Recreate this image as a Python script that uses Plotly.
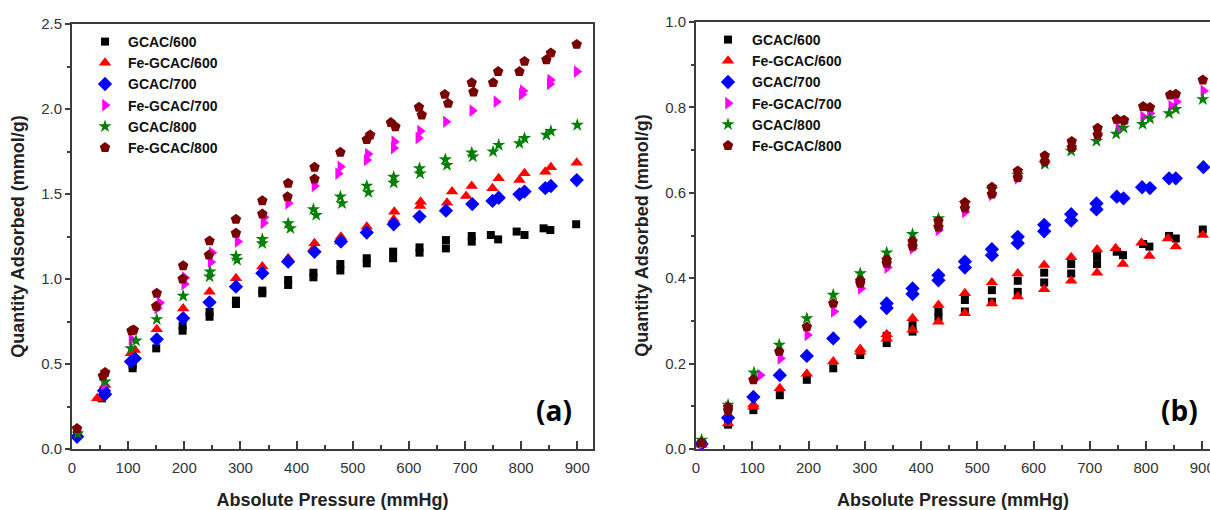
import plotly.graph_objects as go

# ---------------- data: panel (a) ----------------
a_gcac600_p = [9, 53, 108, 108, 150, 197, 197, 245, 245, 292, 292, 339, 339, 385, 385, 430, 430, 478, 478, 525, 525, 572, 572, 619, 619, 666, 666, 712, 712, 746, 759, 792, 806, 840, 852, 898]
a_gcac600_q = [0.08, 0.298, 0.475, 0.495, 0.592, 0.696, 0.724, 0.778, 0.806, 0.853, 0.873, 0.916, 0.932, 0.965, 0.994, 1.01, 1.037, 1.05, 1.088, 1.092, 1.122, 1.122, 1.161, 1.155, 1.186, 1.18, 1.229, 1.22, 1.253, 1.259, 1.233, 1.279, 1.259, 1.298, 1.288, 1.322]

a_fe600_p = [10, 45, 59, 105, 112, 151, 198, 245, 292, 339, 385, 430, 432, 478, 479, 525, 573, 574, 620, 621, 668, 677, 702, 712, 749, 760, 797, 806, 843, 853, 899]
a_fe600_q = [0.09, 0.298, 0.376, 0.563, 0.582, 0.704, 0.827, 0.925, 1.004, 1.073, 1.122, 1.18, 1.21, 1.22, 1.249, 1.308, 1.35, 1.396, 1.43, 1.455, 1.449, 1.514, 1.488, 1.547, 1.534, 1.592, 1.582, 1.622, 1.631, 1.657, 1.684]

a_gcac700_p = [9, 57, 59, 105, 112, 151, 198, 245, 292, 339, 385, 432, 479, 525, 573, 619, 666, 713, 749, 760, 797, 806, 843, 853, 899]
a_gcac700_q = [0.072, 0.343, 0.322, 0.514, 0.533, 0.645, 0.769, 0.863, 0.955, 1.034, 1.102, 1.16, 1.22, 1.273, 1.322, 1.367, 1.402, 1.441, 1.459, 1.478, 1.498, 1.514, 1.534, 1.547, 1.582]

a_fe700_p = [10, 57, 106, 152, 156, 200, 201, 247, 249, 295, 341, 342, 385, 432, 474, 478, 525, 527, 573, 574, 617, 620, 666, 713, 756, 801, 803, 851, 852, 899]
a_fe700_q = [0.10, 0.38, 0.645, 0.828, 0.86, 0.97, 1.008, 1.10, 1.155, 1.22, 1.33, 1.363, 1.445, 1.547, 1.62, 1.66, 1.70, 1.735, 1.77, 1.808, 1.83, 1.87, 1.925, 1.99, 2.043, 2.086, 2.108, 2.147, 2.17, 2.22]

a_gcac800_p = [10, 59, 105, 114, 151, 198, 245, 246, 292, 294, 339, 339, 385, 389, 430, 435, 478, 481, 525, 528, 573, 573, 619, 620, 665, 668, 712, 714, 750, 760, 797, 806, 845, 853, 900]
a_gcac800_q = [0.09, 0.396, 0.592, 0.637, 0.763, 0.90, 1.014, 1.043, 1.135, 1.112, 1.234, 1.21, 1.327, 1.298, 1.41, 1.376, 1.484, 1.445, 1.547, 1.51, 1.60, 1.565, 1.651, 1.62, 1.704, 1.67, 1.743, 1.72, 1.749, 1.788, 1.798, 1.828, 1.847, 1.87, 1.906]

a_fe800_p = [9, 55, 59, 106, 110, 150, 151, 197, 198, 244, 245, 292, 292, 339, 339, 384, 385, 432, 432, 478, 525, 531, 568, 576, 618, 623, 664, 670, 712, 715, 750, 759, 797, 806, 845, 853, 899]
a_fe800_q = [0.12, 0.43, 0.45, 0.696, 0.70, 0.84, 0.916, 1.0, 1.078, 1.141, 1.224, 1.269, 1.351, 1.382, 1.46, 1.484, 1.563, 1.588, 1.657, 1.745, 1.82, 1.847, 1.92, 1.896, 2.01, 1.965, 2.086, 2.033, 2.155, 2.10, 2.155, 2.22, 2.22, 2.28, 2.29, 2.33, 2.38]

# ---------------- data: panel (b) ----------------
b_gcac600_p = [10, 57, 102, 149, 197, 244, 292, 339, 339, 385, 385, 431, 431, 478, 478, 526, 526, 572, 572, 619, 619, 667, 667, 713, 713, 748, 759, 795, 806, 841, 853, 901]
b_gcac600_q = [0.012, 0.057, 0.091, 0.126, 0.162, 0.189, 0.22, 0.248, 0.265, 0.275, 0.29, 0.308, 0.322, 0.349, 0.322, 0.372, 0.345, 0.394, 0.368, 0.413, 0.39, 0.433, 0.411, 0.452, 0.433, 0.462, 0.454, 0.48, 0.474, 0.499, 0.493, 0.514]

b_fe600_p = [10, 57, 102, 102, 149, 197, 244, 292, 292, 339, 339, 385, 385, 431, 431, 478, 478, 526, 526, 572, 572, 619, 619, 667, 667, 713, 713, 746, 759, 792, 806, 839, 853, 901]
b_fe600_q = [0.01, 0.06, 0.099, 0.104, 0.142, 0.176, 0.205, 0.234, 0.228, 0.269, 0.258, 0.306, 0.279, 0.337, 0.298, 0.365, 0.318, 0.39, 0.341, 0.411, 0.357, 0.431, 0.374, 0.449, 0.394, 0.467, 0.413, 0.47, 0.433, 0.483, 0.452, 0.493, 0.474, 0.501]

b_gcac700_p = [10, 57, 102, 149, 197, 244, 292, 339, 339, 385, 385, 431, 431, 478, 478, 526, 526, 572, 572, 619, 619, 667, 667, 712, 712, 748, 760, 793, 807, 841, 853, 902]
b_gcac700_q = [0.012, 0.073, 0.122, 0.173, 0.218, 0.259, 0.298, 0.341, 0.33, 0.376, 0.363, 0.407, 0.395, 0.439, 0.425, 0.468, 0.454, 0.497, 0.482, 0.525, 0.51, 0.55, 0.535, 0.575, 0.561, 0.591, 0.587, 0.613, 0.611, 0.634, 0.634, 0.66]

b_fe700_p = [10, 57, 114, 150, 198, 245, 293, 340, 385, 431, 478, 526, 572, 620, 668, 714, 751, 760, 795, 807, 845, 854, 902]
b_fe700_q = [0.012, 0.098, 0.173, 0.212, 0.267, 0.322, 0.376, 0.425, 0.47, 0.513, 0.555, 0.595, 0.634, 0.67, 0.703, 0.735, 0.751, 0.765, 0.778, 0.786, 0.803, 0.813, 0.839]

b_gcac800_p = [10, 57, 103, 148, 197, 244, 292, 339, 385, 431, 478, 526, 572, 620, 667, 712, 747, 760, 794, 807, 841, 853, 901]
b_gcac800_q = [0.021, 0.103, 0.179, 0.244, 0.306, 0.361, 0.411, 0.46, 0.503, 0.54, 0.575, 0.608, 0.642, 0.668, 0.698, 0.721, 0.738, 0.752, 0.761, 0.774, 0.786, 0.796, 0.819]

b_fe800_p = [10, 57, 57, 102, 148, 197, 244, 292, 292, 339, 339, 385, 385, 431, 431, 478, 478, 526, 526, 572, 572, 620, 620, 668, 668, 714, 714, 748, 761, 795, 807, 843, 853, 901]
b_fe800_q = [0.015, 0.098, 0.09, 0.162, 0.228, 0.286, 0.341, 0.394, 0.388, 0.443, 0.435, 0.486, 0.475, 0.534, 0.52, 0.577, 0.564, 0.613, 0.597, 0.651, 0.636, 0.687, 0.673, 0.72, 0.706, 0.751, 0.736, 0.772, 0.77, 0.802, 0.80, 0.829, 0.831, 0.864]

series_names = ["GCAC/600", "Fe-GCAC/600", "GCAC/700", "Fe-GCAC/700", "GCAC/800", "Fe-GCAC/800"]
colors = ["#000000", "#FF0000", "#0000FF", "#FF00FF", "#008000", "#7A0000"]
symbols = ["square", "triangle-up", "diamond", "triangle-right", "star", "pentagon"]
sizes = [8, 11, 11, 11, 10, 11]

panel_a = [(a_gcac600_p, a_gcac600_q), (a_fe600_p, a_fe600_q), (a_gcac700_p, a_gcac700_q),
           (a_fe700_p, a_fe700_q), (a_gcac800_p, a_gcac800_q), (a_fe800_p, a_fe800_q)]
panel_b = [(b_gcac600_p, b_gcac600_q), (b_fe600_p, b_fe600_q), (b_gcac700_p, b_gcac700_q),
           (b_fe700_p, b_fe700_q), (b_gcac800_p, b_gcac800_q), (b_fe800_p, b_fe800_q)]

W, H = 1210, 510
fig = go.Figure()

for i, (p, q) in enumerate(panel_a):
    fig.add_trace(go.Scatter(x=p, y=q, mode="markers", name=series_names[i],
                             marker=dict(symbol=symbols[i], color=colors[i], size=sizes[i], line=dict(width=0)),
                             xaxis="x", yaxis="y", legend="legend"))
for i, (p, q) in enumerate(panel_b):
    fig.add_trace(go.Scatter(x=p, y=q, mode="markers", name=series_names[i],
                             marker=dict(symbol=symbols[i], color=colors[i], size=sizes[i], line=dict(width=0)),
                             xaxis="x2", yaxis="y2", legend="legend2"))

tick_font = dict(family="Liberation Sans, Arial", size=15, color="#333333")
title_font = dict(family="Liberation Sans, Arial", size=18, color="#222222", weight="bold")
line_col = "#3c3c3c"

def xaxis_cfg(domain, rng, anchor):
    return dict(domain=domain, range=rng, anchor=anchor, showgrid=False, zeroline=False,
                automargin=False,
                showline=True, linecolor=line_col, linewidth=2, mirror=True,
                ticks="inside", ticklen=8, tickwidth=1.5, tickcolor=line_col,
                dtick=100, tick0=0, tickfont=tick_font, ticklabelstandoff=4,
                ticklabeloverflow="allow",
                minor=dict(dtick=50, ticks="inside", ticklen=4, tickwidth=1.5, tickcolor=line_col),
                title=dict(text="Absolute Pressure (mmHg)", font=title_font, standoff=20))

def yaxis_cfg(domain, rng, anchor, dt, mdt, mirror):
    return dict(domain=domain, range=rng, anchor=anchor, showgrid=False, zeroline=False,
                automargin=False,
                showline=True, linecolor=line_col, linewidth=2, mirror=mirror,
                ticks="outside", ticklen=5, tickwidth=1.5, tickcolor=line_col,
                dtick=dt, tick0=0, tickformat=".1f", tickfont=tick_font,
                minor=dict(dtick=mdt, ticks="outside", ticklen=3, tickwidth=1.5, tickcolor=line_col),
                title=dict(text="Quantity Adsorbed (mmol/g)", font=title_font, standoff=12))

ya_dom = [1 - 449 / H, 1 - 24 / H]
yb_dom = [1 - 449 / H, 1 - 22 / H]

legend_font = dict(family="Liberation Sans, Arial", size=14, color="#111111", weight="bold")

fig.update_layout(
    width=W, height=H, margin=dict(l=0, r=0, t=0, b=0, autoexpand=False),
    paper_bgcolor="white", plot_bgcolor="white",
    xaxis=xaxis_cfg([72 / W, 593 / W], [0, 928], "y"),
    yaxis=yaxis_cfg(ya_dom, [0, 2.5], "x", 0.5, 0.25, True),
    xaxis2=xaxis_cfg([696 / W, 1.0], [0, (1210 - 696) / 0.5625], "y2"),
    yaxis2=yaxis_cfg(yb_dom, [0, 1.0], "x2", 0.2, 0.1, False),
    legend=dict(x=82 / W, y=1 - 26 / H, xanchor="left", yanchor="top", bgcolor="rgba(0,0,0,0)",
                itemwidth=36, font=legend_font),
    legend2=dict(x=704 / W, y=1 - 24 / H, xanchor="left", yanchor="top", bgcolor="rgba(0,0,0,0)",
                 itemwidth=38, font=legend_font),
    annotations=[
        dict(text="(a)", x=553.5 / W, y=1 - 410 / H, xref="paper", yref="paper", showarrow=False,
             xanchor="center", yanchor="middle", font=dict(family="Open Sans", size=28, color="#000000", weight="bold")),
        dict(text="(b)", x=1179 / W, y=1 - 410 / H, xref="paper", yref="paper", showarrow=False,
             xanchor="center", yanchor="middle", font=dict(family="Open Sans", size=28, color="#000000", weight="bold")),
    ],
)

fig.write_html("out.html")
